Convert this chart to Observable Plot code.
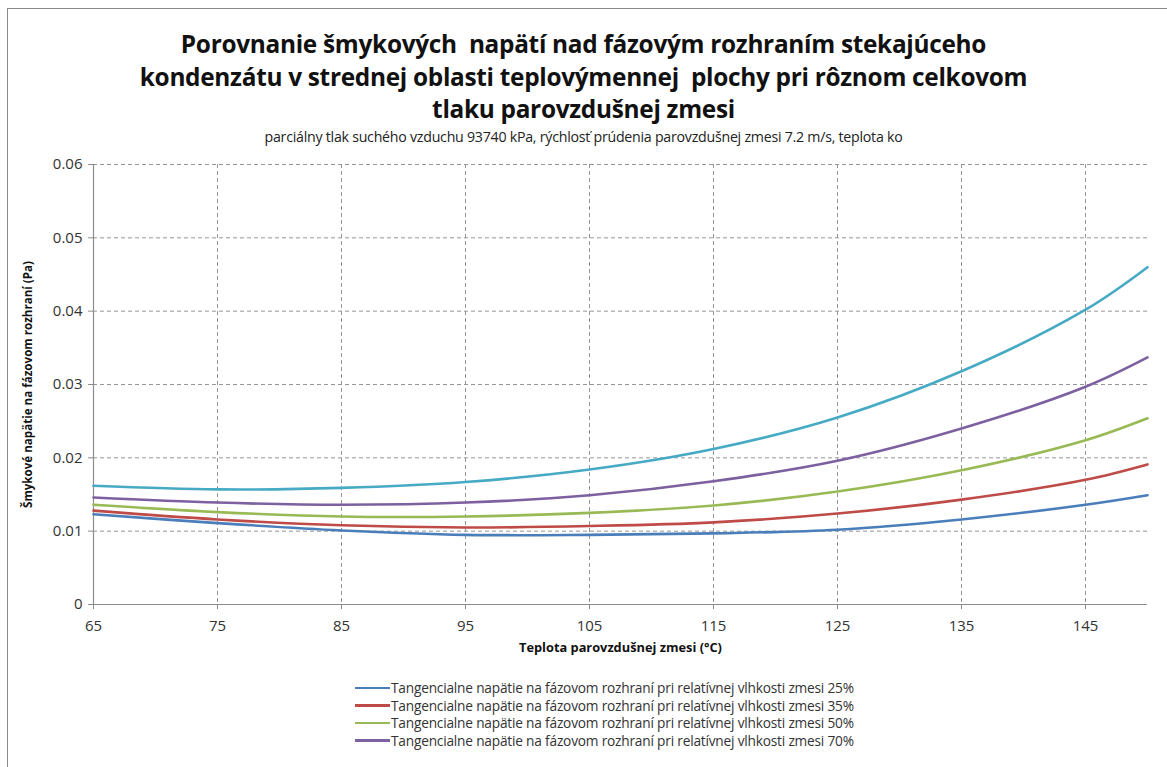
<!DOCTYPE html>
<html>
<head>
<meta charset="utf-8">
<script src="https://cdn.jsdelivr.net/npm/d3@7"></script>
<script src="https://cdn.jsdelivr.net/npm/@observablehq/plot@0.6"></script>
<style>
  body { margin: 0; background: #fff; font-family: "Open Sans", sans-serif; }
  #wrap { position: relative; width: 1167px; height: 767px; overflow: hidden; background: #fff; }
  #frame { position: absolute; left: 7px; top: 8px; width: 1200px; height: 800px; border: 1px solid #8a8a8a; box-sizing: border-box; }
  #title { position: absolute; left: 0; width: 1167px; top: 28px; text-align: center; font-weight: bold; font-size: 24.4px; line-height: 32.5px; color: #111; letter-spacing: -0.3px; }
  #subtitle { position: absolute; left: 0; width: 1167px; top: 127px; text-align: center; font-size: 14.2px; color: #222; letter-spacing: -0.25px; }
  #chart { position: absolute; left: 0; top: 150px; }
  #legend { position: absolute; left: 355px; top: 679px; font-size: 13.7px; color: #333; letter-spacing: -0.2px; }
  .li { height: 17.6px; display: flex; align-items: center; }
  .sw { width: 35px; height: 2.5px; margin-right: 1px; }
</style>
</head>
<body>
<div id="wrap">
  <div id="frame"></div>
  <div id="title">Porovnanie šmykových&nbsp; napätí nad fázovým rozhraním stekajúceho<br>kondenzátu v strednej oblasti teplovýmennej&nbsp; plochy pri rôznom celkovom<br>tlaku parovzdušnej zmesi</div>
  <div id="subtitle">parciálny tlak suchého vzduchu 93740 kPa, rýchlosť prúdenia parovzdušnej zmesi 7.2 m/s, teplota ko</div>
  <div id="chart"></div>
  <div id="legend"></div>
</div>
<script>
// Temperature of the vapour-air mixture (°C)
const temps = [65, 75, 85, 95, 105, 115, 125, 135, 145, 150];
// Shear stress (Pa) per relative humidity series
const rh25 = [0.0123, 0.0111, 0.0101, 0.0095, 0.0095, 0.0097, 0.0102, 0.0116, 0.0136, 0.0149];
const rh35 = [0.0128, 0.0116, 0.0108, 0.0105, 0.0107, 0.0112, 0.0124, 0.0143, 0.0170, 0.0191];
const rh50 = [0.0136, 0.0126, 0.0120, 0.0120, 0.0125, 0.0135, 0.0154, 0.0183, 0.0224, 0.0254];
const rh70 = [0.0146, 0.0139, 0.0136, 0.0139, 0.0149, 0.0168, 0.0196, 0.0240, 0.0297, 0.0337];
const rh90 = [0.0162, 0.0157, 0.0159, 0.0167, 0.0184, 0.0212, 0.0255, 0.0318, 0.0402, 0.0460];

const seriesNames = [
  "Tangencialne napätie na fázovom rozhraní pri relatívnej vlhkosti zmesi 25%",
  "Tangencialne napätie na fázovom rozhraní pri relatívnej vlhkosti zmesi 35%",
  "Tangencialne napätie na fázovom rozhraní pri relatívnej vlhkosti zmesi 50%",
  "Tangencialne napätie na fázovom rozhraní pri relatívnej vlhkosti zmesi 70%",
  "Tangencialne napätie na fázovom rozhraní pri relatívnej vlhkosti zmesi 90%"
];
const seriesColors = ["#4a7ebb", "#be4b48", "#98b954", "#7d60a0", "#46aac5"];
const legendShown = 4;

const xTicks = [65, 75, 85, 95, 105, 115, 125, 135, 145];
const yTicks = [0, 0.01, 0.02, 0.03, 0.04, 0.05, 0.06];

const allSeries = [rh25, rh35, rh50, rh70, rh90];
const data = [];
allSeries.forEach((vals, i) => vals.forEach((v, j) => data.push({t: temps[j], v, s: seriesNames[i]})));

const yFmt = d => d === 0 ? "0" : d.toFixed(2);

const plot = Plot.plot({
  width: 1167,
  height: 520,
  marginLeft: 93,
  marginRight: 20,
  marginTop: 14,
  marginBottom: 66,
  style: { fontFamily: "Open Sans, sans-serif", fontSize: "15px", color: "#333", background: "transparent", overflow: "visible" },
  x: { domain: [65, 150], label: null },
  y: { domain: [0, 0.06], label: null },
  color: { domain: seriesNames, range: seriesColors },
  marks: [
    Plot.ruleY(yTicks.filter(d => d > 0), { stroke: "#959595", strokeDasharray: "4,3", strokeWidth: 1 }),
    Plot.ruleX(xTicks.filter(d => d > 65), { stroke: "#959595", strokeDasharray: "4,3", strokeWidth: 1 }),
    Plot.axisX({ ticks: xTicks, tickSize: 5, tickPadding: 11, fontSize: 15, label: null, stroke: "#8c8c8c", fill: "#333" }),
    Plot.axisY({ ticks: yTicks, tickSize: 5, tickPadding: 6, fontSize: 15, label: null, stroke: "#8c8c8c", fill: "#333",
                 tickFormat: yFmt }),
    Plot.ruleY([0], { stroke: "#8c8c8c", strokeWidth: 1.2 }),
    Plot.ruleX([65], { stroke: "#8c8c8c", strokeWidth: 1.2 }),
    Plot.line(data, { x: "t", y: "v", z: "s", stroke: "s", strokeWidth: 2.6, curve: "catmull-rom" }),
    Plot.text(["Teplota parovzdušnej zmesi (°C)"], { frameAnchor: "bottom", dy: 47, fontWeight: "bold", fontSize: 12.8, fill: "#111" }),
    Plot.text(["Šmykové napätie na fázovom rozhraní (Pa)"], { frameAnchor: "left", dx: -65, rotate: -90, textAnchor: "middle", fontWeight: "bold", fontSize: 11.6, fill: "#111" })
  ]
});
document.getElementById("chart").appendChild(plot);

const legend = document.getElementById("legend");
seriesNames.slice(0, legendShown).forEach((n, i) => {
  const row = document.createElement("div");
  row.className = "li";
  const sw = document.createElement("span");
  sw.className = "sw";
  sw.style.background = seriesColors[i];
  const tx = document.createElement("span");
  tx.textContent = n;
  row.appendChild(sw); row.appendChild(tx);
  legend.appendChild(row);
});
</script>
</body>
</html>
